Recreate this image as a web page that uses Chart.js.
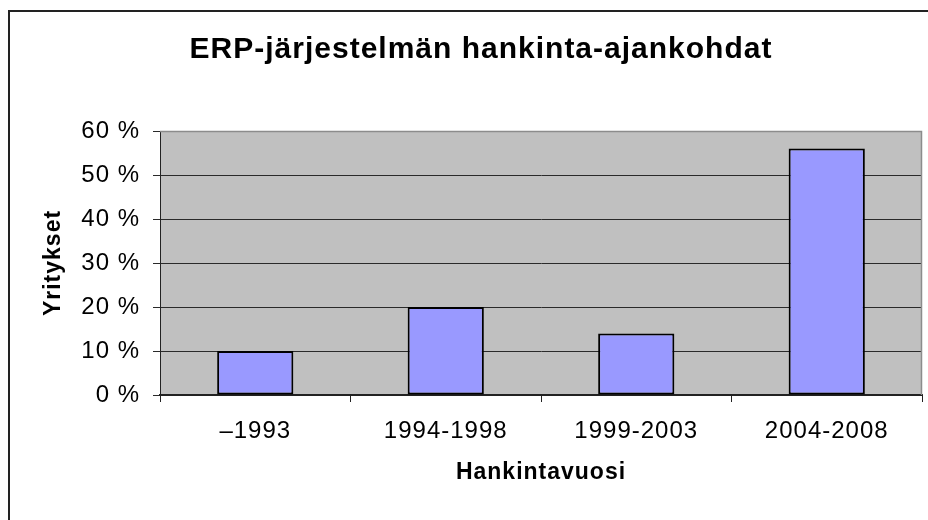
<!DOCTYPE html>
<html>
<head>
<meta charset="utf-8">
<script src="https://cdn.jsdelivr.net/npm/chart.js@4/dist/chart.umd.min.js"></script>
<style>
  html, body { margin: 0; padding: 0; background: #ffffff; }
  #wrap { width: 928px; height: 520px; }
</style>
</head>
<body>
<div id="wrap"><canvas id="c" width="928" height="520" style="width:928px;height:520px"></canvas></div>
<script>
const titleText = 'ERP-järjestelmän hankinta-ajankohdat';
const xAxisTitle = 'Hankintavuosi';
const yAxisTitle = 'Yritykset';
const categories = ['\u20131993', '1994-1998', '1999-2003', '2004-2008'];
const shares = [10, 20, 14, 56];
const yTickValues = [0, 10, 20, 30, 40, 50, 60];

const FONT = "'Liberation Sans', Arial, Helvetica, sans-serif";
const SPACING = '1px';

const spacingPlugin = {
  id: 'spacing',
  beforeUpdate(chart) { chart.ctx.letterSpacing = SPACING; },
  beforeLayout(chart) { chart.ctx.letterSpacing = SPACING; },
  beforeDraw(chart) { chart.ctx.letterSpacing = SPACING; }
};

const framePlugin = {
  id: 'frame',
  beforeDraw(chart) {
    const ctx = chart.ctx;
    const a = chart.chartArea;
    ctx.save();
    ctx.fillStyle = '#ffffff';
    ctx.fillRect(0, 0, chart.width, chart.height);
    ctx.fillStyle = '#C0C0C0';
    ctx.fillRect(a.left, a.top, a.right - a.left, a.bottom - a.top);
    ctx.strokeStyle = '#222222';
    ctx.lineWidth = 2;
    ctx.beginPath();
    ctx.moveTo(9, chart.height);
    ctx.lineTo(9, 11);
    ctx.lineTo(chart.width, 11);
    ctx.stroke();
    ctx.restore();
  },
  afterDraw(chart) {
    const ctx = chart.ctx;
    const a = chart.chartArea;
    ctx.save();
    ctx.strokeStyle = '#8c8c8c';
    ctx.lineWidth = 1.5;
    ctx.beginPath();
    ctx.moveTo(a.left, a.top + 0.5);
    ctx.lineTo(a.right - 0.5, a.top + 0.5);
    ctx.lineTo(a.right - 0.5, a.bottom);
    ctx.stroke();
    ctx.restore();
  }
};

new Chart(document.getElementById('c'), {
  type: 'bar',
  data: {
    labels: categories,
    datasets: [{
      data: shares,
      backgroundColor: '#9999FF',
      borderColor: '#000000',
      borderWidth: 2,
      borderSkipped: false,
      categoryPercentage: 1.0,
      barPercentage: 0.4
    }]
  },
  options: {
    responsive: false,
    animation: false,
    layout: { padding: { left: 40, right: 6, top: 0, bottom: 25 } },
    plugins: {
      legend: { display: false },
      tooltip: { enabled: false },
      title: {
        display: true,
        text: titleText,
        color: '#000000',
        font: { family: FONT, size: 30, weight: 'bold' },
        padding: { top: 32, bottom: 63 }
      }
    },
    scales: {
      x: {
        offset: true,
        grid: {
          offset: true,
          drawOnChartArea: false,
          drawTicks: true,
          tickLength: 7,
          color: '#222222',
          lineWidth: 1
        },
        border: { display: true, color: '#222222', width: 2 },
        ticks: {
          color: '#000000',
          font: { family: FONT, size: 24 },
          padding: 15,
          maxRotation: 0,
          autoSkip: false
        },
        title: {
          display: true,
          text: xAxisTitle,
          color: '#000000',
          font: { family: FONT, size: 23, weight: 'bold' },
          padding: { top: 0, bottom: 9 }
        },
        afterFit(scale) { scale.height = 100; }
      },
      y: {
        min: 0,
        max: 60,
        afterBuildTicks(scale) { scale.ticks = yTickValues.map(v => ({ value: v })); },
        grid: {
          drawTicks: true,
          tickLength: 7,
          color: '#2a2a2a',
          lineWidth: 1
        },
        border: { display: true, color: '#222222', width: 1 },
        ticks: {
          color: '#000000',
          font: { family: FONT, size: 24 },
          padding: 13,
          callback: (v) => v + ' %'
        },
        title: {
          display: true,
          text: yAxisTitle,
          color: '#000000',
          font: { family: FONT, size: 23, weight: 'bold' },
          padding: { top: 0, bottom: 0 }
        },
        afterFit(scale) { scale.width = 120; }
      }
    }
  },
  plugins: [spacingPlugin, framePlugin]
});
</script>
</body>
</html>
